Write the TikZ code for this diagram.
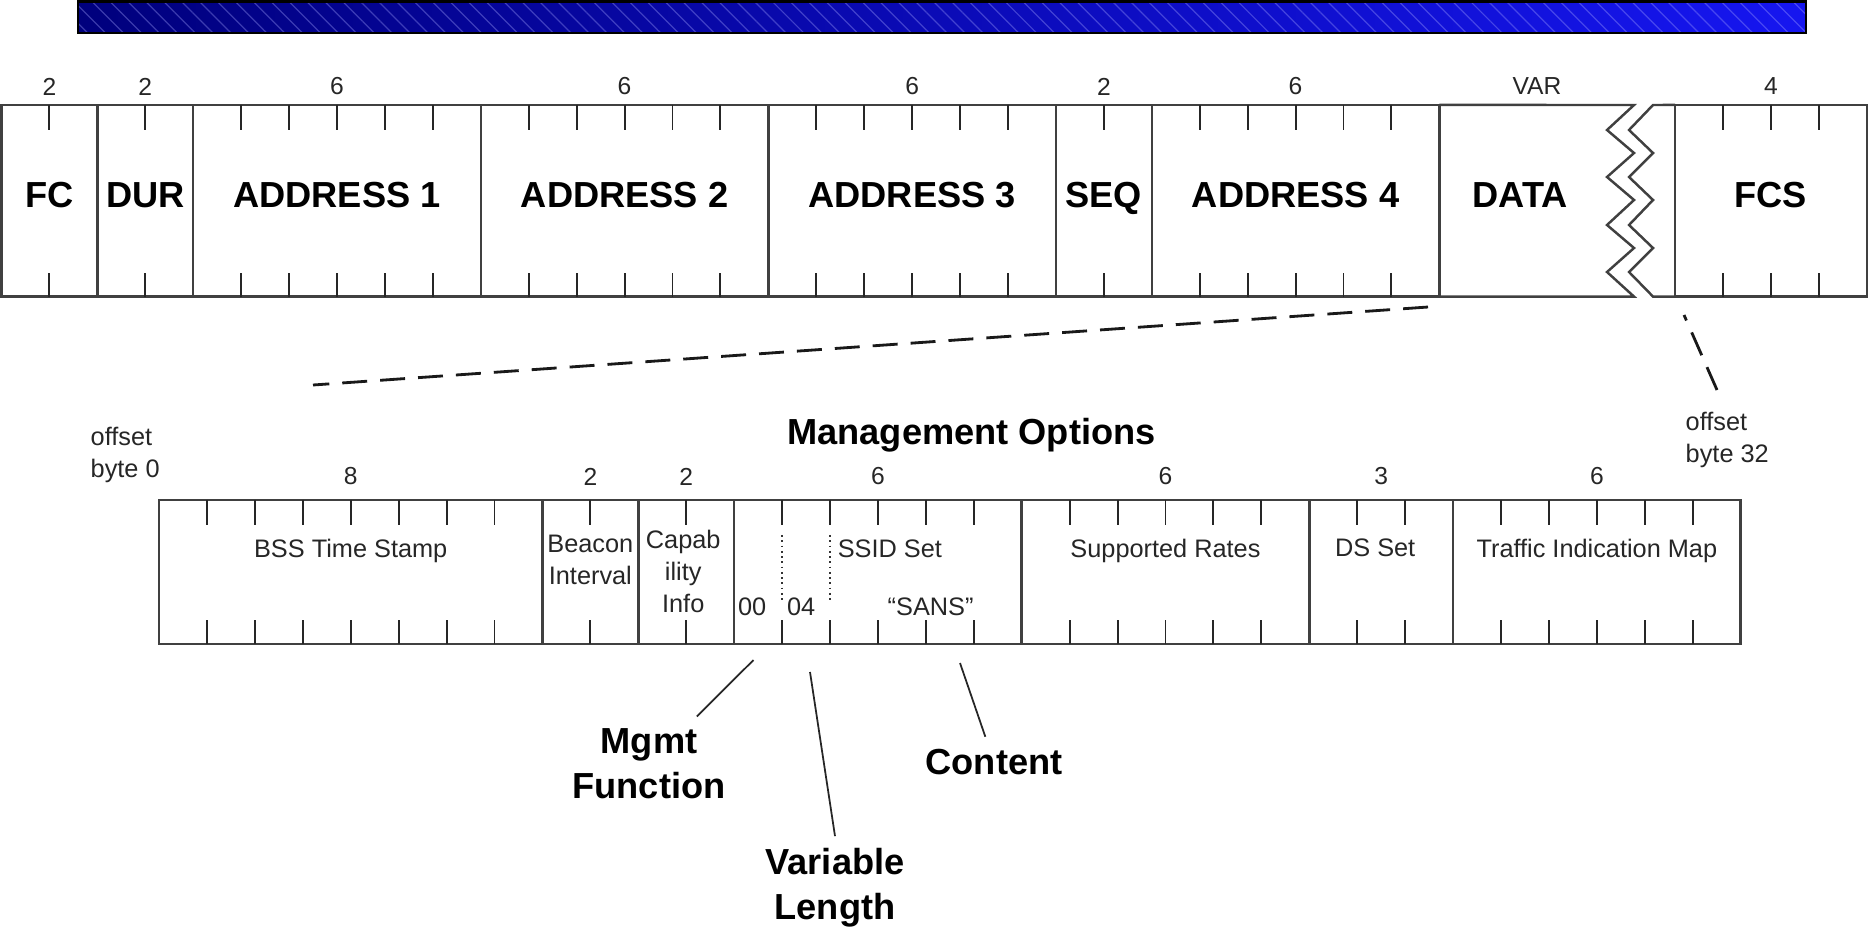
\documentclass[tikz,border=0pt]{standalone}
\usepackage{fontspec}
\setmainfont{Liberation Sans}
\usetikzlibrary{positioning,calc,patterns.meta}
\definecolor{barleft}{RGB}{0,0,125}
\definecolor{barright}{RGB}{22,22,240}

\begin{document}
\begin{tikzpicture}[x=0.01cm, y=-0.01cm,
  fieldtext/.style={font=\bfseries\fontsize{10.3}{12}\selectfont, text height=7.4pt, text depth=3.4pt, inner sep=0pt},
  field/.style={fieldtext, rectangle, draw=black!75, line width=0.7pt, outer sep=0pt, minimum height=1.916cm},
  optfield/.style={rectangle, draw=black!75, line width=0.7pt, outer sep=0pt, inner sep=0pt, minimum height=1.44cm},
  tick/.style={line width=0.55pt, black!85},
  count/.style={font=\fontsize{7}{8}\selectfont, inner sep=0pt, text=black!85},
  optlabel/.style={font=\fontsize{7.2}{9.1}\selectfont, inner sep=0pt, align=center, text=black!85},
  callout/.style={font=\bfseries\fontsize{10.3}{12.8}\selectfont, align=center},
  pointer/.style={line width=0.5pt, black!85},
  zoomline/.style={line width=0.8pt, black!90, dash pattern=on 7.1pt off 3.7pt}]
\useasboundingbox (0,0) rectangle (1874,930);

% title bar
\fill[left color=barleft, right color=barright] (78,1.5) rectangle (1806,33);
\fill[pattern={Lines[angle=-45,distance=3.6pt,line width=0.35pt]}, pattern color=blue!35!white, opacity=0.35] (78,1.5) rectangle (1806,33);
\draw[black, line width=0.7pt] (78,1.5) rectangle (1806,33);

% MAC frame
\node (fc) [field, minimum width=0.958cm, anchor=west] at (1.5,200.8) {FC};
\node (dur) [field, minimum width=0.958cm, right=0pt of fc] {DUR};
\node (addra) [field, minimum width=2.874cm, right=0pt of dur] {ADDRESS 1};
\node (addrb) [field, minimum width=2.874cm, right=0pt of addra] {ADDRESS 2};
\node (addrc) [field, minimum width=2.874cm, right=0pt of addrb] {ADDRESS 3};
\node (seq) [field, minimum width=0.958cm, right=0pt of addrc] {SEQ};
\node (addrd) [field, minimum width=2.874cm, right=0pt of seq] {ADDRESS 4};
\node (fcs) [field, minimum width=1.916cm, anchor=west] at (1675,200.8) {FCS};
\node (datalbl) [fieldtext] at (1520,200.8) {DATA};

% open data field with break
\draw[black!75, line width=0.7pt] (addrd.north east) -- (1634,105) -- (1607,130) -- (1634,153) -- (1607,177) -- (1634,200) -- (1607,225) -- (1634,248) -- (1607,272) -- (1634,296.6) -- (addrd.south east);
\draw[black!75, line width=0.7pt] (fcs.north west) -- (1653,105) -- (1629,130) -- (1653,153) -- (1629,177) -- (1653,200) -- (1629,225) -- (1653,248) -- (1629,272) -- (1653,296.6) -- (fcs.south west);

\coordinate (toprow) at (0,86.5);
\node (fcsize) [count] at (fc |- toprow) {2};
\node (dursize) [count] at (dur |- toprow) {2};
\node (addrasize) [count] at (addra |- toprow) {6};
\node (addrbsize) [count] at (addrb |- toprow) {6};
\node (addrcsize) [count] at (addrc |- toprow) {6};
\node (seqsize) [count] at (seq |- toprow) {2};
\node (addrdsize) [count] at (addrd |- toprow) {6};
\node (datasize) [count] at (1537,86.5) {VAR};
\node (fcssize) [count] at (fcs |- toprow) {4};

% management options
\node (bss) [optfield, minimum width=3.832cm, anchor=west] at (159,572) {};
\node (beacon) [optfield, minimum width=0.958cm, right=0pt of bss] {};
\node (capab) [optfield, minimum width=0.958cm, right=0pt of beacon] {};
\node (ssid) [optfield, minimum width=2.874cm, right=0pt of capab] {};
\node (rates) [optfield, minimum width=2.874cm, right=0pt of ssid] {};
\node (dsset) [optfield, minimum width=1.437cm, right=0pt of rates] {};
\node (tim) [optfield, minimum width=2.874cm, right=0pt of dsset] {};

% byte ticks
\foreach \f/\n in {fc/2,dur/2,addra/6,addrb/6,addrc/6,seq/2,addrd/6,fcs/4,bss/8,beacon/2,capab/2,ssid/6,rates/6,dsset/3,tim/6} {
  \pgfmathtruncatemacro\last{\n-1}
  \foreach \i in {1,...,\last} {
    \draw[tick] ($(\f.north west)!\i/\n!(\f.north east)$) -- ++(0,25);
    \draw[tick] ($(\f.south west)!\i/\n!(\f.south east)$) -- ++(0,-24);
  }
}

\coordinate (optrow) at (0,476.5);
\node (bsssize) [count] at (bss |- optrow) {8};
\node (beaconsize) [count] at (beacon |- optrow) {2};
\node (capabsize) [count] at (capab |- optrow) {2};
\node (ssidsize) [count] at (ssid |- optrow) {6};
\node (ratessize) [count] at (rates |- optrow) {6};
\node (dssize) [count] at (dsset |- optrow) {3};
\node (timsize) [count] at (tim |- optrow) {6};

\node (bsslbl) [optlabel, anchor=north] at ($(bss.north)+(0,38.5)$) {BSS Time Stamp};
\node (beaconlbl) [optlabel, anchor=north] at ($(beacon.north)+(0,34.5)$) {Beacon\\Interval};
\node (capablbl) [optlabel, anchor=north] at ($(capab.north)+(-3,29)$) {Capab\\ility\\Info};
\node (ssidlbl) [optlabel, anchor=north west] at ($(ssid.north west)+(103,39.5)$) {SSID Set};
\node (funclbl) [optlabel, anchor=north] at ($(ssid.north west)+(18,97)$) {00};
\node (lenlbl) [optlabel, anchor=north] at ($(ssid.north west)+(67,97)$) {04};
\node (sanslbl) [optlabel, anchor=north] at ($(ssid.north west)+(196.5,97)$) {``SANS''};
\node (rateslbl) [optlabel, anchor=north] at ($(rates.north)+(0,38.5)$) {Supported Rates};
\node (dslbl) [optlabel, anchor=north] at ($(dsset.north)+(-6,38.5)$) {DS Set};
\node (timlbl) [optlabel, anchor=north] at ($(tim.north)+(0,38.5)$) {Traffic Indication Map};
\draw[black!80, line width=0.5pt, densely dotted] ($(ssid.north west)!1/6!(ssid.north east)+(0,35)$) -- ++(0,68);
\draw[black!80, line width=0.5pt, densely dotted] ($(ssid.north west)!2/6!(ssid.north east)+(0,35)$) -- ++(0,68);

\node (mgmtopts) [callout, anchor=base] at (971.5,444) {Management Options};
\node (offsetzero) [optlabel, align=left, anchor=north west] at (90,426) {offset\\byte 0};
\node (offsetend) [optlabel, align=left, anchor=north west] at (1685,411) {offset\\byte 32};

% zoom lines
\coordinate (datafoot) at (1428,307);
\coordinate (optstart) at (313,385);
\coordinate (fcsfoot) at (1684,315);
\coordinate (optend) at (1717,390);
\draw[zoomline] (datafoot) -- (optstart);
\draw[zoomline] (optend) -- (fcsfoot);

% callouts
\node (mgmt) [callout] at (649,764) {Mgmt\\Function};
\node (varlen) [callout] at (835,888) {Variable\\Length};
\node (content) [callout] at (994,762) {Content};
\coordinate (mgmtpt) at (753.5,660);
\coordinate (lenpt) at (810,672);
\coordinate (contpt) at (960,663);
\draw[pointer] (mgmtpt) -- (mgmt);
\draw[pointer] (lenpt) -- (varlen.north);
\draw[pointer] (contpt) -- (content);
\end{tikzpicture}
\end{document}
